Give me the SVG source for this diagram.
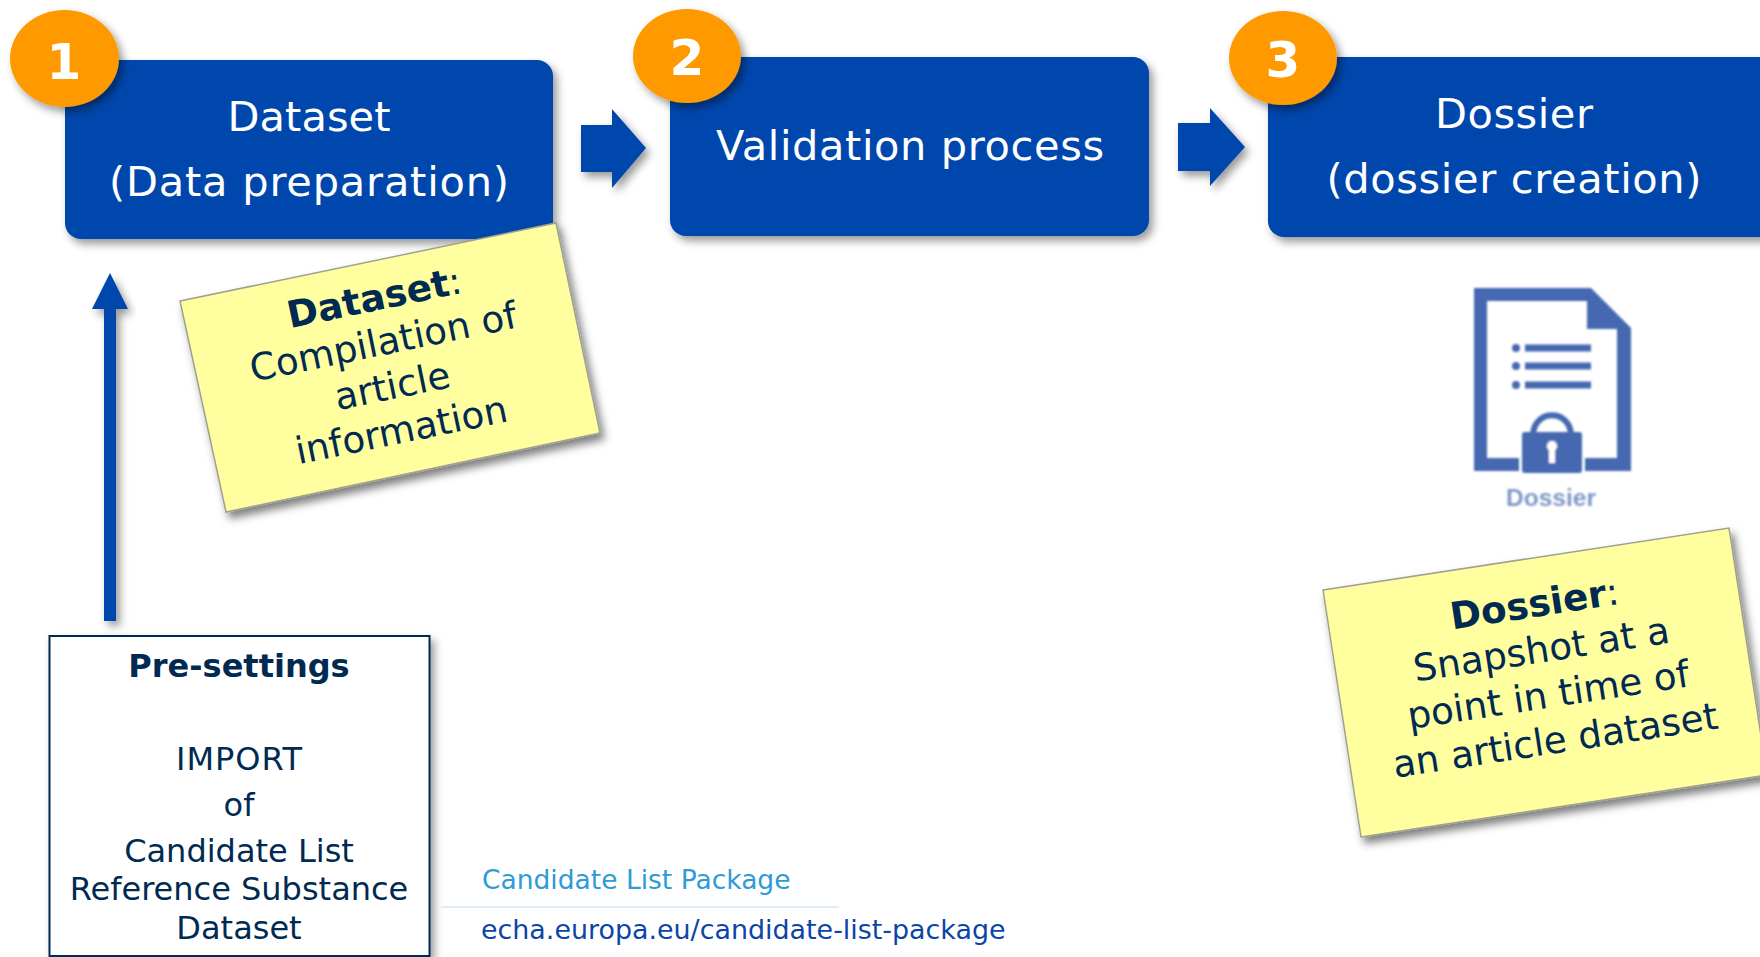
<svg xmlns="http://www.w3.org/2000/svg" width="1760" height="957" viewBox="0 0 1760 957">
<style>
text{font-family:"DejaVu Sans",Verdana,sans-serif}
.box{fill:#0346ad;filter:url(#sh)}
.ttl{fill:#fff;font-size:41.5px;text-anchor:middle}
.num{fill:#fff;font-size:50px;font-weight:bold;text-anchor:middle}
.circ{fill:#fe9900;filter:url(#sh)}
.arrow{fill:#0346ad;filter:url(#sh)}
.note{fill:#ffff9f;stroke:#a0a090;stroke-width:1.5;filter:url(#sh2)}
.nt{fill:#002a52;font-size:37.300px;text-anchor:middle}
.ps{fill:#002a52;font-size:32px;text-anchor:middle}
.b{font-weight:bold}
.ic{fill:#4468b0}
</style>
<defs>
<filter id="sh" x="-20%" y="-20%" width="140%" height="140%"><feDropShadow dx="4" dy="5" stdDeviation="4" flood-color="#000" flood-opacity=".4"/></filter>
<filter id="sh2" x="-20%" y="-20%" width="140%" height="140%"><feDropShadow dx="4" dy="6" stdDeviation="4" flood-color="#000" flood-opacity=".5"/></filter>
<filter id="bl"><feGaussianBlur stdDeviation=".8"/></filter>
</defs>
<g id="connectors">
<path class="arrow" d="M581 125H612V109L646 148L612 188V172H581Z"/>
<path class="arrow" d="M1178 123H1210V108L1245 147L1210 186V171H1178Z"/>
<path class="arrow" d="M104 621V309H92L110 273L128 309H116V621Z"/>
</g>
<g id="node-dataset">
<rect class="box" x="65" y="60" width="488" height="179" rx="16"/>
<text class="ttl" x="309" y="131" textLength="163">Dataset</text>
<text class="ttl" x="309" y="196" textLength="400">(Data preparation)</text>
<ellipse class="circ" cx="64.500" cy="58.500" rx="54.500" ry="48.500"/>
<text class="num" x="64" y="79">1</text>
</g>
<g id="node-validation">
<rect class="box" x="670" y="57" width="479" height="179" rx="16"/>
<text class="ttl" x="910" y="160" textLength="388">Validation process</text>
<ellipse class="circ" cx="687" cy="56" rx="54" ry="47"/>
<text class="num" x="687" y="75">2</text>
</g>
<g id="node-dossier">
<rect class="box" x="1268" y="57" width="520" height="180" rx="16"/>
<text class="ttl" x="1514" y="128" textLength="158">Dossier</text>
<text class="ttl" x="1514" y="193" textLength="375">(dossier creation)</text>
<ellipse class="circ" cx="1283" cy="58" rx="54" ry="47"/>
<text class="num" x="1283" y="77">3</text>
</g>
<g id="note-dataset">
<path class="note" d="M180 301L556 223L600 433L226 512Z"/>
<g transform="rotate(-11.6 390 370)">
<text class="nt" x="389" y="309"><tspan class="b">Dataset</tspan>:</text>
<text class="nt" x="389" y="354">Compilation of</text>
<text class="nt" x="389" y="399">article</text>
<text class="nt" x="389" y="444">information</text>
</g>
</g>
<g id="note-dossier">
<path class="note" d="M1323 590L1729 528L1767 775L1361 837Z"/>
<g transform="rotate(-8.7 1545 680)">
<text class="nt" x="1546" y="616"><tspan class="b">Dossier</tspan>:</text>
<text class="nt" x="1546" y="662">Snapshot at a</text>
<text class="nt" x="1546" y="708">point in time of</text>
<text class="nt" x="1546" y="754">an article dataset</text>
</g>
</g>
<g id="icon-dossier">
<g filter="url(#bl)">
<path class="ic" fill-rule="evenodd" d="M1474 288H1591L1631 328V471H1585V458H1617V329H1587V301H1487V458H1519V471H1474Z"/>
<path class="ic" d="M1525 344.500H1591V351.500H1525ZM1525 362.500H1591V369.500H1525ZM1525 381.500H1591V388.500H1525Z"/>
<circle class="ic" cx="1516" cy="348" r="4"/><circle class="ic" cx="1516" cy="366" r="4"/><circle class="ic" cx="1516" cy="385" r="4"/>
<path d="M1533 434C1535 409 1569 409 1571 434" fill="none" stroke="#4468b0" stroke-width="6"/>
<rect class="ic" x="1522" y="432" width="60" height="41" rx="3"/>
<path fill="#fff" d="M1552 441a5 5 0 0 1 3 9v13h-6v-13a5 5 0 0 1 3-9Z"/>
</g>
<text x="1551" y="506" fill="#7f98c8" font-size="24.500" font-weight="bold" text-anchor="middle" style="font-family:'Liberation Sans',sans-serif" filter="url(#bl)">Dossier</text>
</g>
<g id="node-presettings">
<rect x="49.500" y="636" width="380" height="320" fill="#fff" stroke="#002a52" stroke-width="2" filter="url(#sh)"/>
<text class="ps b" x="239" y="677">Pre-settings</text>
<text class="ps" x="239" y="770" textLength="126">IMPORT</text>
<text class="ps" x="239" y="816">of</text>
<text class="ps" x="239" y="862">Candidate List</text>
<text class="ps" x="239" y="900">Reference Substance</text>
<text class="ps" x="239" y="939">Dataset</text>
</g>
<g id="link">
<text x="482" y="889" fill="#2e9bd6" font-size="26.500">Candidate List Package</text>
<rect x="441" y="906" width="398" height="2" fill="#dcecf8"/>
<text x="481" y="939" fill="#0b45a8" font-size="26.900">echa.europa.eu/candidate-list-package</text>
</g>
</svg>
